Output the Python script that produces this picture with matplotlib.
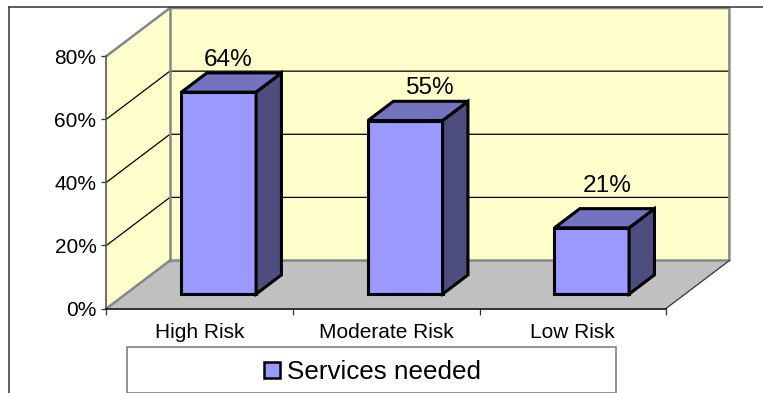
import matplotlib
matplotlib.use('Agg')
import matplotlib.pyplot as plt
from matplotlib.lines import Line2D
from matplotlib.patches import Polygon, Rectangle

plt.rcParams['font.family'] = ['Liberation Sans', 'DejaVu Sans']

categories = ['High Risk', 'Moderate Risk', 'Low Risk']
services_needed = [64, 55, 21]
y_ticks = [0, 20, 40, 60, 80]
series_name = 'Services needed'

WIDTH, HEIGHT = 763, 393

# depth of the box in data units: one full step back along z
DEPTH_X = 0.34
DEPTH_Y = 15.2

# hand placed value labels, offset from the bar top in points
label_offsets = [(-2.2, 8.5), (8, 8.5), (2.2, 15)]


def project(x, y, z):
    return x + z * DEPTH_X, y + z * DEPTH_Y


def face(ax, corners, color, edge='black', lw=2.2, zorder=3):
    pts = [project(*c) for c in corners]
    ax.add_patch(Polygon(pts, closed=True, facecolor=color, edgecolor=edge,
                         linewidth=lw, joinstyle='miter', clip_on=False, zorder=zorder))


def draw_bar(ax, x0, x1, value, z0=0.30, z1=0.70):
    face(ax, [(x0, 0, z0), (x1, 0, z0), (x1, value, z0), (x0, value, z0)], '#9999FF')
    face(ax, [(x1, 0, z0), (x1, 0, z1), (x1, value, z1), (x1, value, z0)], '#4D4D80')
    face(ax, [(x0, value, z0), (x1, value, z0), (x1, value, z1), (x0, value, z1)], '#7373BF')


fig = plt.figure(figsize=(WIDTH / 100, HEIGHT / 100), dpi=100)
ax = fig.add_axes([106.5 / WIDTH, (HEIGHT - 308.5) / HEIGHT, 559.5 / WIDTH, 252.5 / HEIGHT])
ax.set_xlim(0, len(categories))
ax.set_ylim(0, y_ticks[-1])
ax.patch.set_visible(False)

n = len(categories)
top = y_ticks[-1]

# walls and floor
face(ax, [(0, 0, 0), (0, 0, 1), (0, top, 1), (0, top, 0)], '#FFFFCC', edge='none', lw=0, zorder=1)
face(ax, [(0, 0, 1), (n, 0, 1), (n, top, 1), (0, top, 1)], '#FFFFCC', edge='none', lw=0, zorder=1)
face(ax, [(0, 0, 0), (n, 0, 0), (n, 0, 1), (0, 0, 1)], '#C0C0C0', edge='none', lw=0, zorder=1)

# gridlines run along the side wall and then the back wall
for v in y_ticks[1:-1]:
    xs, ys = zip(project(0, v, 0), project(0, v, 1), project(n, v, 1))
    ax.plot(xs, ys, color='black', lw=0.9, clip_on=False, zorder=2)

# wall frame
frame_paths = [
    [(0, top, 0), (0, top, 1), (n, top, 1), (n, 0, 1), (0, 0, 1), (0, 0, 0)],
    [(0, 0, 1), (0, top, 1)],
]
for path in frame_paths:
    xs, ys = zip(*[project(*p) for p in path])
    ax.plot(xs, ys, color='#868686', lw=1.8, clip_on=False, zorder=2,
            solid_capstyle='projecting')
xs, ys = zip(project(n, 0, 0), project(n, 0, 1))
ax.plot(xs, ys, color='#333333', lw=0.9, clip_on=False, zorder=2)

# bars with their value labels
for i, value in enumerate(services_needed):
    draw_bar(ax, i + 0.30, i + 0.70, value)
    lx, ly = project(i + 0.5, value, 0.5)
    ax.annotate(f'{value}%', (lx, ly), xytext=label_offsets[i], textcoords='offset points',
                ha='center', va='bottom', fontsize=17.6, color='black',
                zorder=5, annotation_clip=False)

# axes
for side in ['top', 'right']:
    ax.spines[side].set_visible(False)
ax.spines['left'].set_color('#555555')
ax.spines['left'].set_linewidth(1.2)
ax.spines['bottom'].set_color('black')
ax.spines['bottom'].set_linewidth(1.1)
ax.spines['left'].set_zorder(2.5)
ax.spines['bottom'].set_zorder(2.5)

ax.set_yticks(y_ticks)
ax.set_yticklabels([f'{v}%' for v in y_ticks], fontsize=15)
ax.tick_params(axis='y', length=3.5, width=0.9, pad=3.7, color='#333333')
ax.set_xticks(range(n + 1))
ax.set_xticklabels([])
ax.tick_params(axis='x', length=4, width=0.9, color='#333333')
ax.set_xticks([i + 0.5 for i in range(n)], minor=True)
ax.set_xticklabels(categories, minor=True, fontsize=15)
ax.tick_params(axis='x', which='minor', length=0, pad=10.5)

# outer chart border, open on the right and bottom
fig.add_artist(Line2D([8.5 / WIDTH, 8.5 / WIDTH], [0, 1 - 7 / HEIGHT], color='#333333', lw=1.1))
fig.add_artist(Line2D([8.5 / WIDTH, 1], [1 - 7 / HEIGHT, 1 - 7 / HEIGHT], color='#333333', lw=1.1))

# legend box
fig.add_artist(Rectangle((126.5 / WIDTH, 1 - 392.5 / HEIGHT), 489.5 / WIDTH, 46 / HEIGHT,
                         facecolor='white', edgecolor='#808080', linewidth=1.2,
                         transform=fig.transFigure))
fig.add_artist(Rectangle((263.5 / WIDTH, 1 - 378 / HEIGHT), 16 / WIDTH, 16 / HEIGHT,
                         facecolor='#9999FF', edgecolor='black', linewidth=1.8,
                         transform=fig.transFigure))
fig.text(287 / WIDTH, 1 - 372 / HEIGHT, series_name, fontsize=18.7, color='black',
         ha='left', va='center')

fig.savefig('out.png', dpi=100)
